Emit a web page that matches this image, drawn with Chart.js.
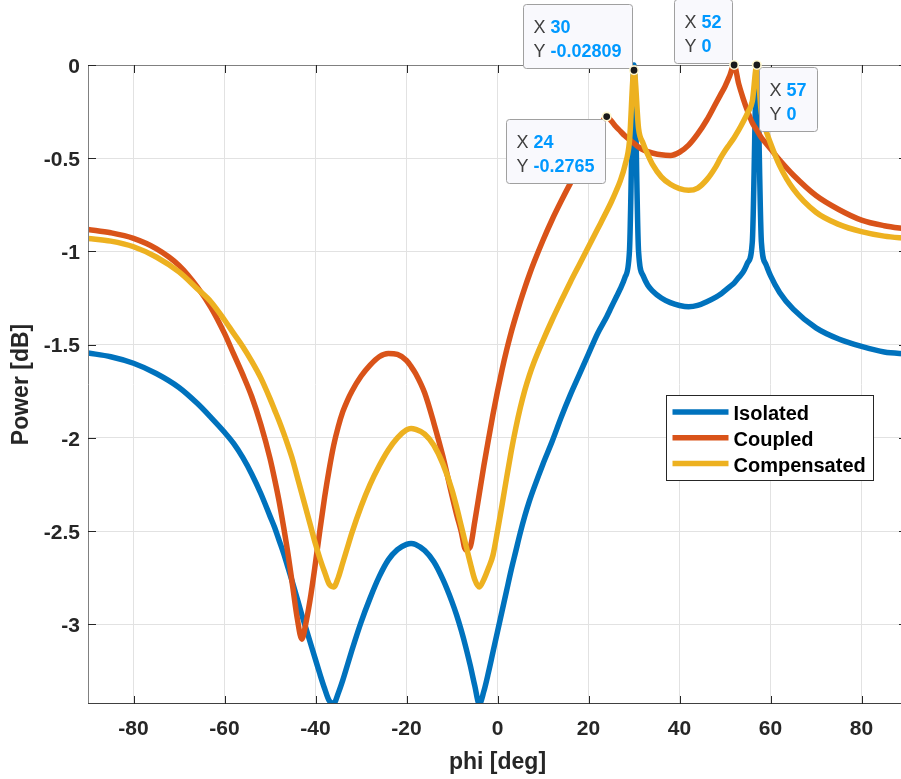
<!DOCTYPE html>
<html>
<head>
<meta charset="utf-8">
<script src="https://cdn.jsdelivr.net/npm/chart.js@4"></script>
<style>
html,body{margin:0;padding:0;overflow:hidden;background:#fff;width:901px;height:779px}
canvas{display:block}
</style>
</head>
<body>
<canvas id="c" width="912" height="779" style="width:912px;height:779px"></canvas>
<script>
// ---- data ----
const phi = [-90,-85,-80,-75,-70,-66,-63,-60,-58,-56,-54,-52,-50,-49,-48,-47,-46,-45,-44,-43,-42,-41,-40,-39,-38,-37,-36,-35,-34,-33,-32,-30,-28,-26,-24,-22,-20,-19,-18,-16,-14,-12,-10,-9,-8,-7,-6,-5,-4,-3,-2,-1,0,1,2,3,4,5,6,7,8,10,12,14,16,18,20,22,24,25,26,27,28,29,30,31,32,33,34,36,38,40,42,44,46,48,49,50,51,52,53,54,55,56,57,58,59,60,62,65,70,75,80,85,90];

const isolated = [-1.545,-1.565,-1.60,-1.655,-1.73,-1.815,-1.89,-1.97,-2.03,-2.105,-2.195,-2.30,-2.42,-2.48,-2.55,-2.62,-2.70,-2.78,-2.865,-2.95,-3.03,-3.11,-3.19,-3.27,-3.345,-3.41,-3.425,-3.37,-3.30,-3.22,-3.14,-2.99,-2.86,-2.745,-2.655,-2.60,-2.572,-2.567,-2.572,-2.605,-2.665,-2.76,-2.88,-2.95,-3.03,-3.12,-3.22,-3.33,-3.428,-3.36,-3.26,-3.15,-3.04,-2.93,-2.82,-2.71,-2.61,-2.51,-2.42,-2.34,-2.27,-2.14,-2.02,-1.89,-1.77,-1.66,-1.55,-1.44,-1.35,-1.30,-1.25,-1.20,-1.14,-1.0,0,-1.0,-1.13,-1.18,-1.21,-1.25,-1.275,-1.29,-1.297,-1.29,-1.27,-1.245,-1.23,-1.21,-1.19,-1.17,-1.14,-1.11,-1.06,-0.95,0,-0.95,-1.07,-1.13,-1.22,-1.31,-1.41,-1.47,-1.51,-1.54,-1.55];

const coupled = [-0.882,-0.90,-0.93,-0.985,-1.075,-1.19,-1.30,-1.44,-1.55,-1.66,-1.78,-1.93,-2.11,-2.22,-2.34,-2.48,-2.63,-2.80,-2.97,-3.08,-2.98,-2.84,-2.67,-2.49,-2.32,-2.17,-2.04,-1.94,-1.86,-1.80,-1.75,-1.67,-1.61,-1.565,-1.548,-1.553,-1.585,-1.617,-1.655,-1.76,-1.92,-2.10,-2.31,-2.41,-2.50,-2.60,-2.585,-2.45,-2.30,-2.15,-2.01,-1.875,-1.75,-1.635,-1.53,-1.435,-1.35,-1.27,-1.195,-1.125,-1.06,-0.94,-0.83,-0.73,-0.635,-0.545,-0.455,-0.365,-0.2765,-0.30,-0.33,-0.355,-0.38,-0.40,-0.42,-0.44,-0.455,-0.465,-0.472,-0.482,-0.485,-0.468,-0.43,-0.37,-0.295,-0.205,-0.16,-0.115,-0.06,0,-0.10,-0.18,-0.25,-0.31,-0.35,-0.39,-0.42,-0.45,-0.51,-0.59,-0.70,-0.775,-0.832,-0.862,-0.88];

const compensated = [-0.93,-0.945,-0.975,-1.03,-1.11,-1.20,-1.27,-1.368,-1.44,-1.51,-1.59,-1.68,-1.79,-1.85,-1.91,-1.975,-2.045,-2.12,-2.21,-2.30,-2.39,-2.48,-2.57,-2.65,-2.72,-2.785,-2.80,-2.75,-2.67,-2.59,-2.51,-2.37,-2.25,-2.15,-2.065,-2.0,-1.958,-1.95,-1.955,-1.98,-2.04,-2.14,-2.28,-2.37,-2.47,-2.57,-2.67,-2.76,-2.80,-2.76,-2.70,-2.63,-2.50,-2.36,-2.215,-2.075,-1.95,-1.84,-1.745,-1.665,-1.596,-1.478,-1.368,-1.265,-1.165,-1.07,-0.975,-0.88,-0.785,-0.735,-0.68,-0.62,-0.54,-0.41,-0.02809,-0.34,-0.42,-0.48,-0.53,-0.60,-0.64,-0.663,-0.672,-0.66,-0.615,-0.545,-0.50,-0.46,-0.425,-0.39,-0.35,-0.305,-0.255,-0.195,0,-0.26,-0.35,-0.42,-0.54,-0.665,-0.79,-0.855,-0.894,-0.918,-0.93];

const seriesNames = ['Isolated', 'Coupled', 'Compensated'];
const xTickValues = [-80, -60, -40, -20, 0, 20, 40, 60, 80];
const yTickValues = [0, -0.5, -1, -1.5, -2, -2.5, -3];
const xRange = [-90, 90];

// data tips (MATLAB-style)
const tipX = [30, 52, 57, 24];
const tipY = [-0.02809, 0, 0, -0.2765];
const tipTextX = ['30', '52', '57', '24'];
const tipTextY = ['-0.02809', '0', '0', '-0.2765'];

// ---- styling ----
const FONT = '"Liberation Sans", Arial, Helvetica, sans-serif';
const COLORS = ['#0072BD', '#D95319', '#EDB120'];
const TEXT = '#262626';

const toXY = (ys) => phi.map((p, i) => ({x: p, y: ys[i]}));
const yMin = Math.min(...isolated, ...coupled, ...compensated);

const axesPlugin = {
  id: 'matlabAxes',
  afterDatasetsDraw(chart) {
    const {ctx, chartArea: a, scales: {x, y}} = chart;
    ctx.save();
    ctx.lineWidth = 1;
    ctx.strokeStyle = '#808080';
    ctx.beginPath();
    ctx.moveTo(a.left + 0.5, a.bottom);
    ctx.lineTo(a.left + 0.5, a.top + 0.5);
    ctx.lineTo(a.right - 0.5, a.top + 0.5);
    ctx.lineTo(a.right - 0.5, a.bottom);
    ctx.stroke();
    ctx.strokeStyle = '#404040';
    ctx.beginPath();
    ctx.moveTo(a.left, a.bottom - 0.5);
    ctx.lineTo(a.right, a.bottom - 0.5);
    ctx.stroke();
    ctx.strokeStyle = TEXT;
    const L = 8;
    ctx.beginPath();
    x.ticks.forEach(t => {
      const px = Math.round(x.getPixelForValue(t.value)) + 0.5;
      ctx.moveTo(px, a.bottom); ctx.lineTo(px, a.bottom - L);
      ctx.moveTo(px, a.top); ctx.lineTo(px, a.top + L);
    });
    y.ticks.forEach(t => {
      const py = Math.round(y.getPixelForValue(t.value)) + 0.5;
      ctx.moveTo(a.left, py); ctx.lineTo(a.left + L, py);
      ctx.moveTo(a.right, py); ctx.lineTo(a.right - L, py);
    });
    ctx.stroke();
    ctx.restore();
  }
};

function roundRect(ctx, x, y, w, h, r) {
  ctx.beginPath();
  ctx.moveTo(x + r, y);
  ctx.lineTo(x + w - r, y);
  ctx.quadraticCurveTo(x + w, y, x + w, y + r);
  ctx.lineTo(x + w, y + h - r);
  ctx.quadraticCurveTo(x + w, y + h, x + w - r, y + h);
  ctx.lineTo(x + r, y + h);
  ctx.quadraticCurveTo(x, y + h, x, y + h - r);
  ctx.lineTo(x, y + r);
  ctx.quadraticCurveTo(x, y, x + r, y);
  ctx.closePath();
}

const tipsPlugin = {
  id: 'datatips',
  afterDraw(chart) {
    const {ctx, scales: {x, y}} = chart;
    const dirs = [[-1, -1], [-1, -1], [1, 1], [-1, 1]];
    ctx.save();
    tipX.forEach((tx, i) => {
      const px = x.getPixelForValue(tx);
      const py = y.getPixelForValue(tipY[i]);
      ctx.font = '18px ' + FONT;
      const lx = ctx.measureText('X ').width, ly = ctx.measureText('Y ').width;
      ctx.font = 'bold 18px ' + FONT;
      const vx = ctx.measureText(tipTextX[i]).width, vy = ctx.measureText(tipTextY[i]).width;
      const w = Math.round(Math.max(lx + vx, ly + vy) + 21);
      const h = 64;
      const [dx, dy] = dirs[i];
      const bx = Math.round(dx < 0 ? px - 2 - w : px + 2) + 0.5;
      const by = Math.round(dy < 0 ? py - 2 - h : py + 2) + 0.5;
      roundRect(ctx, bx, by, w, h, 3);
      ctx.fillStyle = '#f9f9fd';
      ctx.fill();
      ctx.lineWidth = 1;
      ctx.strokeStyle = '#a0a0a0';
      ctx.stroke();
      ctx.textBaseline = 'alphabetic';
      ctx.textAlign = 'left';
      ctx.font = '18px ' + FONT;
      ctx.fillStyle = '#404040';
      ctx.fillText('X', bx + 10, by + 28.5);
      ctx.fillText('Y', bx + 10, by + 52.5);
      ctx.font = 'bold 18px ' + FONT;
      ctx.fillStyle = '#0099ff';
      ctx.fillText(tipTextX[i], bx + 10 + lx, by + 28.5);
      ctx.fillText(tipTextY[i], bx + 10 + ly, by + 52.5);
      ctx.beginPath();
      ctx.arc(px, py, 4.2, 0, Math.PI * 2);
      ctx.fillStyle = '#1a1a1a';
      ctx.fill();
      ctx.lineWidth = 1.6;
      ctx.strokeStyle = '#fff8d0';
      ctx.stroke();
    });
    ctx.restore();
  }
};

const legendPlugin = {
  id: 'boxLegend',
  afterDraw(chart) {
    const ctx = chart.ctx;
    const bx = 666.5, by = 395.5, bw = 207, bh = 85;
    ctx.save();
    ctx.fillStyle = '#ffffff';
    ctx.fillRect(bx, by, bw, bh);
    ctx.lineWidth = 1;
    ctx.strokeStyle = '#262626';
    ctx.strokeRect(bx, by, bw, bh);
    ctx.font = 'bold 20px ' + FONT;
    ctx.textBaseline = 'alphabetic';
    ctx.textAlign = 'left';
    seriesNames.forEach((name, i) => {
      const ly = by + 16.5 + i * 25.8;
      ctx.beginPath();
      ctx.moveTo(bx + 6, ly);
      ctx.lineTo(bx + 62, ly);
      ctx.lineWidth = 5.5;
      ctx.strokeStyle = COLORS[i];
      ctx.stroke();
      ctx.fillStyle = '#000000';
      ctx.fillText(name, bx + 67, ly + 8.3);
    });
    ctx.restore();
  }
};

const ds = (label, ys, i) => ({
  label,
  data: toXY(ys),
  borderColor: COLORS[i],
  backgroundColor: COLORS[i],
  borderWidth: 5.5,
  pointRadius: 0,
  pointHoverRadius: 0,
  cubicInterpolationMode: 'monotone',
  borderJoinStyle: 'round',
  fill: false,
  order: 3 - i,
  clip: {left: 0, top: 4, right: 0, bottom: 0}
});

new Chart(document.getElementById('c'), {
  type: 'line',
  data: {
    datasets: [
      ds(seriesNames[0], isolated, 0),
      ds(seriesNames[1], coupled, 1),
      ds(seriesNames[2], compensated, 2)
    ]
  },
  options: {
    responsive: false,
    animation: false,
    devicePixelRatio: 1,
    events: [],
    layout: {padding: {top: 65, right: 5, bottom: 0, left: 0}},
    plugins: {legend: {display: false}, tooltip: {enabled: false}},
    scales: {
      x: {
        type: 'linear',
        min: xRange[0],
        max: xRange[1],
        afterBuildTicks: (s) => { s.ticks = xTickValues.map(v => ({value: v})); },
        afterFit: (s) => { s.height = 75; },
        ticks: {
          callback: (v) => String(v),
          font: {family: FONT, size: 21, weight: 'bold'},
          color: TEXT,
          padding: 13,
          maxRotation: 0,
          autoSkip: false
        },
        grid: {color: '#e2e2e2', lineWidth: 1, drawTicks: false},
        border: {display: false},
        title: {
          display: true,
          text: 'phi [deg]',
          font: {family: FONT, size: 23, weight: 'bold', lineHeight: 1},
          color: TEXT,
          padding: {top: 0, bottom: 4.5}
        }
      },
      y: {
        type: 'linear',
        min: yMin,
        max: 0,
        afterBuildTicks: (s) => { s.ticks = yTickValues.map(v => ({value: v})); },
        afterFit: (s) => { s.width = 88; },
        ticks: {
          callback: (v) => String(v),
          font: {family: FONT, size: 21, weight: 'bold'},
          color: TEXT,
          padding: 8,
          labelOffset: 2,
          autoSkip: false
        },
        grid: {color: '#e2e2e2', lineWidth: 1, drawTicks: false},
        border: {display: false},
        title: {
          display: true,
          text: 'Power [dB]',
          font: {family: FONT, size: 23, weight: 'bold', lineHeight: 1},
          color: TEXT,
          padding: {top: 10.5, bottom: 0}
        }
      }
    }
  },
  plugins: [axesPlugin, tipsPlugin, legendPlugin]
});
</script>
</body>
</html>
